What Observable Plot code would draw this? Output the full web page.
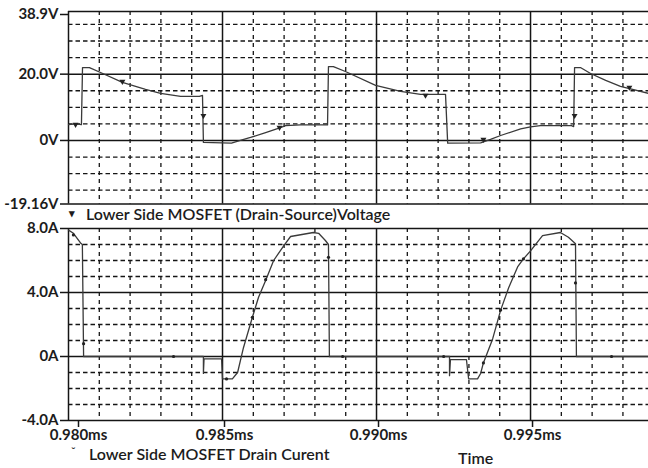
<!DOCTYPE html>
<html><head><meta charset="utf-8">
<script src="https://cdn.jsdelivr.net/npm/d3@7"></script>
<script src="https://cdn.jsdelivr.net/npm/@observablehq/plot@0.6"></script>
<style>
body{margin:0;background:#fff;}
#chart{position:relative;width:648px;height:468px;overflow:hidden;font-family:Lato,"Open Sans",sans-serif;color:#1c1c1c;background:#fff}
#chart svg{position:absolute;left:0;overflow:visible}
.lg{position:absolute;white-space:nowrap;font-size:16px;font-weight:600;line-height:13px}
</style></head><body><div id="chart"></div>
<script>
// ---- time axis (ms)
const timeDomain = [0.980, 0.99883];
const timeTicks = [0.980, 0.985, 0.990, 0.995];
const timeTickLabels = ["0.980ms", "0.985ms", "0.990ms", "0.995ms"];
const timeMinor = [0.981, 0.982, 0.983, 0.984, 0.986, 0.987, 0.988, 0.989, 0.991, 0.992, 0.993, 0.994, 0.996, 0.997, 0.998];

// ---- voltage panel
const voltDomain = [-19.16, 38.9];
const voltTicks = [38.9, 20, 0, -19.16];
const voltTickLabels = ["38.9V", "20.0V", "0V", "-19.16V"];
const voltMinor = [35, 30, 25, 15, 10, 5, -5, -10, -15];
const voltTime = [0.98000, 0.98023, 0.98042, 0.980455, 0.98068, 0.98104, 0.98175, 0.98250, 0.98299, 0.98364, 0.98425, 0.98435, 0.98438, 0.98529, 0.98558, 0.98591, 0.98640, 0.98688, 0.98705, 0.98753, 0.98841, 0.98844, 0.98860, 0.98899, 0.98997, 0.99078, 0.99143, 0.99224, 0.99231, 0.99338, 0.99370, 0.99403, 0.99468, 0.99500, 0.99532, 0.99633, 0.99640, 0.99643, 0.99662, 0.99695, 0.99744, 0.99792, 0.99883];
const voltValue = [4.8, 5.0, 4.8, 22.0, 22.0, 20.5, 17.5, 15.4, 14.2, 13.3, 13.3, 13.6, -0.6, -0.8, 0.0, 0.9, 2.4, 3.9, 4.5, 4.7, 4.7, 22.3, 22.3, 20.8, 16.6, 14.8, 13.9, 13.9, -0.8, -0.75, 0.3, 1.5, 3.5, 4.1, 4.5, 4.5, 4.2, 22.0, 22.0, 20.2, 18.1, 16.3, 14.2];
const voltMarkTime = [0.98023, 0.98175, 0.98438, 0.98685, 0.99159, 0.99347, 0.99643, 0.99821];
const voltMarkValue = [4.8, 17.8, 7.5, 3.9, 13.6, 0.3, 7.5, 16.0];
const voltLegend = "Lower Side MOSFET (Drain-Source)Voltage";

// ---- current panel
const currDomain = [-4, 8];
const currTicks = [8, 4, 0, -4];
const currTickLabels = ["8.0A", "4.0A", "0A", "-4.0A"];
const currMinor = [7, 6, 5, 3, 2, 1, -1, -2, -3];
const currTime = [0.98000, 0.98016, 0.98039, 0.98045, 0.98049, 0.98438, 0.98438, 0.98440, 0.98497, 0.98500, 0.98532, 0.98549, 0.98568, 0.98597, 0.98617, 0.98640, 0.98666, 0.98698, 0.98721, 0.98795, 0.98812, 0.98834, 0.98844, 0.98847, 0.99237, 0.99237, 0.99240, 0.99292, 0.99299, 0.99328, 0.99338, 0.99347, 0.99377, 0.99403, 0.99429, 0.99458, 0.99477, 0.99500, 0.99539, 0.99597, 0.99623, 0.99646, 0.99649, 0.99883];
const currValue = [7.9, 7.7, 7.1, 7.0, 0, 0, -1.06, -0.15, -0.15, -1.4, -1.4, -1.0, 0.55, 2.45, 3.7, 4.75, 6.0, 6.9, 7.5, 7.75, 7.7, 7.25, 7.0, 0, 0, -1.2, -0.2, -0.2, -1.4, -1.4, -1.06, -0.4, 1.1, 2.9, 4.3, 5.6, 6.1, 6.6, 7.55, 7.75, 7.45, 7.05, 0, 0];
const currMarkTime = [0.98016, 0.98049, 0.98341, 0.98513, 0.98597, 0.98640, 0.98844, 0.98890, 0.99218, 0.99347, 0.99403, 0.99477, 0.99646, 0.99763];
const currMarkValue = [7.6, 0.8, 0, -1.4, 2.45, 4.8, 6.2, 0, 0, -0.4, 2.9, 6.1, 4.6, 0];
const currLegend = "Lower Side MOSFET Drain Curent";
const xTitle = "Time";

// ---- build
const volt = voltTime.map((t, i) => ({t, v: voltValue[i]}));
const voltMarks = voltMarkTime.map((t, i) => ({t, v: voltMarkValue[i]}));
const curr = currTime.map((t, i) => ({t, v: currValue[i]}));
const currMarks = currMarkTime.map((t, i) => ({t, v: currMarkValue[i]}));
const vLab = new Map(voltTicks.map((d, i) => [d, voltTickLabels[i]]));
const cLab = new Map(currTicks.map((d, i) => [d, currTickLabels[i]]));
const tLab = new Map(timeTicks.map((d, i) => [d, timeTickLabels[i]]));

const gridColor = "#151515";
const traceColor = "#3a3a3a";
const font = {fontFamily: "Lato, 'Open Sans', sans-serif", fontSize: "15px", fontWeight: "bold", color: "#1c1c1c", overflow: "visible"};

function gridMarks(minorY, ticksY) {
  return [
    Plot.ruleY(minorY, {stroke: gridColor, strokeWidth: 1.3, strokeDasharray: "4.5,3"}),
    Plot.ruleX(timeMinor, {stroke: gridColor, strokeWidth: 1.3, strokeDasharray: "4,4"}),
    Plot.ruleX(timeTicks, {stroke: gridColor, strokeWidth: 1.5}),
    Plot.ruleY(ticksY, {stroke: gridColor, strokeWidth: 1.5})
  ];
}

const topPlot = Plot.plot({
  width: 648, height: 210,
  marginLeft: 68, marginRight: 0, marginTop: 11, marginBottom: 6.5,
  x: {domain: timeDomain, axis: null},
  y: {domain: voltDomain, axis: null},
  style: font,
  marks: [
    ...gridMarks(voltMinor, voltTicks),
    Plot.axisY(voltTicks.slice(1), {tickFormat: d => vLab.get(d), tickSize: 8, tickPadding: 2, label: null, stroke: gridColor, strokeWidth: 1.5}),
    Plot.axisY(voltTicks.slice(0, 1), {tickFormat: d => vLab.get(d), tickSize: 8, tickPadding: 2, label: null, dy: 3, stroke: gridColor, strokeWidth: 1.5}),
    Plot.line(volt, {x: "t", y: "v", stroke: traceColor, strokeWidth: 1.3}),
    Plot.dot(voltMarks, {x: "t", y: "v", symbol: "triangle", rotate: 180, r: 2.2, fill: "#222", stroke: "none"})
  ]
});
topPlot.style.top = "0px";

const botPlot = Plot.plot({
  width: 648, height: 248,
  marginLeft: 68, marginRight: 0, marginTop: 8, marginBottom: 48,
  x: {domain: timeDomain, axis: null},
  y: {domain: currDomain, axis: null},
  style: font,
  marks: [
    ...gridMarks(currMinor, currTicks),
    Plot.axisY(currTicks, {tickFormat: d => cLab.get(d), tickSize: 8, tickPadding: 2, label: null, stroke: gridColor, strokeWidth: 1.5}),
    Plot.axisX(timeTicks.slice(1), {tickFormat: d => tLab.get(d), tickSize: 7, tickPadding: 2, label: null, dx: 2, stroke: gridColor, strokeWidth: 1.5}),
    Plot.axisX(timeTicks.slice(0, 1), {tickFormat: d => tLab.get(d), tickSize: 7, tickPadding: 2, label: null, dx: 10, stroke: gridColor, strokeWidth: 1.5}),
    Plot.line(curr, {x: "t", y: "v", stroke: traceColor, strokeWidth: 1.3}),
    Plot.dot(currMarks, {x: "t", y: "v", r: 1.6, fill: "#222", stroke: "none"})
  ]
});
botPlot.style.top = "220px";

const chart = document.getElementById("chart");
chart.append(topPlot, botPlot);

function addText(txt, left, top, extra) {
  const d = document.createElement("div");
  d.className = "lg";
  d.textContent = txt;
  d.style.left = left + "px";
  d.style.top = top + "px";
  if (extra) Object.assign(d.style, extra);
  chart.append(d);
  return d;
}
addText("\u25BE", 69, 208, {fontSize: "11px", lineHeight: "10px"});
addText(voltLegend, 86, 207);
addText("\u02C7", 71, 449, {fontSize: "12px", lineHeight: "6px"});
addText(currLegend, 89, 447);
addText(xTitle, 458, 451);
</script></body></html>
